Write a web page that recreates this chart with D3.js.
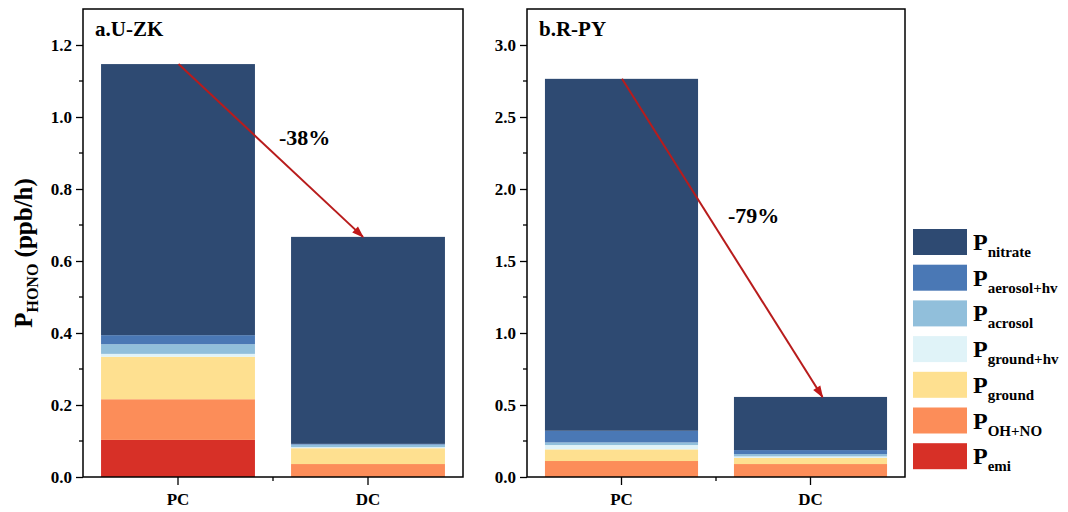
<!DOCTYPE html>
<html>
<head>
<meta charset="utf-8">
<script src="https://cdn.jsdelivr.net/npm/d3@7"></script>
<style>
  body { margin: 0; background: #fff; }
  svg { display: block; }
  svg text { font-family: "Liberation Serif", "DejaVu Serif", "Times New Roman", serif !important; font-weight: bold; fill: #000; }
</style>
</head>
<body>
<svg id="chart" width="1068" height="512"></svg>
<script>
// ---- data ----
const categories = ["PC", "DC"];
const seriesKeys = ["emi", "OH+NO", "ground", "ground+hv", "aerosol", "aerosol+hv", "nitrate"];
const seriesLabels = ["emi", "OH+NO", "ground", "ground+hv", "acrosol", "aerosol+hv", "nitrate"];
const seriesColors = ["#d73027", "#fc8d59", "#fee090", "#e0f3f8", "#91bfdb", "#4a78b5", "#2e4a72"];

// panel a (U-ZK): values per series for [PC, DC]
const uzkPC = [0.103, 0.113, 0.118, 0.008, 0.027, 0.025, 0.753];
const uzkDC = [0.000, 0.036, 0.044, 0.003, 0.007, 0.002, 0.575];
// panel b (R-PY)
const rpyPC = [0.000, 0.111, 0.081, 0.030, 0.018, 0.081, 2.444];
const rpyDC = [0.000, 0.090, 0.042, 0.011, 0.016, 0.028, 0.369];

const uzkTicks = [0.0, 0.2, 0.4, 0.6, 0.8, 1.0, 1.2];
const rpyTicks = [0.0, 0.5, 1.0, 1.5, 2.0, 2.5, 3.0];
const changeLabels = ["-38%", "-79%"];

const panels = [
  { title: "a.U-ZK", pc: uzkPC, dc: uzkDC, max: 1.3, ticks: uzkTicks, minorStep: 0.1, left: 83, right: 463, change: changeLabels[0], labelPos: [279, 145], endOff: -5 },
  { title: "b.R-PY", pc: rpyPC, dc: rpyDC, max: 3.25, ticks: rpyTicks, minorStep: 0.25, left: 527, right: 905, change: changeLabels[1], labelPos: [728, 223], endOff: 12 }
];

const svg = d3.select("#chart");
const plotTop = 9, plotBottom = 477;

svg.append("defs").append("marker")
  .attr("id", "arrowhead")
  .attr("viewBox", "0 0 10 10")
  .attr("refX", 9).attr("refY", 5)
  .attr("markerWidth", 7).attr("markerHeight", 6)
  .attr("markerUnits", "strokeWidth")
  .attr("orient", "auto")
  .append("path").attr("d", "M0,1.5 L10,5 L0,8.5 Z").attr("fill", "#c01818");

panels.forEach(p => {
  const g = svg.append("g");
  const x = d3.scaleBand().domain(categories).range([p.left, p.right]).paddingInner(0.19).paddingOuter(0.095);
  const y = d3.scaleLinear().domain([0, p.max]).range([plotBottom, plotTop]);

  const rows = categories.map((c, i) => {
    const vals = i === 0 ? p.pc : p.dc;
    const o = { cat: c };
    seriesKeys.forEach((k, j) => o[k] = vals[j]);
    return o;
  });
  const stacked = d3.stack().keys(seriesKeys)(rows);

  stacked.forEach((layer, li) => {
    g.selectAll(null).data(layer).join("rect")
      .attr("x", d => x(d.data.cat))
      .attr("width", x.bandwidth())
      .attr("y", d => y(d[1]))
      .attr("height", d => Math.max(0, y(d[0]) - y(d[1])))
      .attr("fill", seriesColors[li]);
  });

  // frame
  g.append("rect").attr("x", p.left).attr("y", plotTop)
    .attr("width", p.right - p.left).attr("height", plotBottom - plotTop)
    .attr("fill", "none").attr("stroke", "#000").attr("stroke-width", 1.5);

  // y axis major
  const yAxis = g.append("g").attr("transform", `translate(${p.left},0)`)
    .call(d3.axisLeft(y).tickValues(p.ticks).tickFormat(d3.format(".1f")).tickSize(7).tickPadding(4));
  yAxis.attr("font-family", null).attr("font-size", null);
  yAxis.select(".domain").remove();
  yAxis.selectAll("line").attr("stroke", "#000").attr("stroke-width", 1.3);
  yAxis.selectAll("text").style("font-size", "17px");

  // y minor ticks
  const minors = d3.range(p.minorStep, p.max, p.minorStep * 2);
  g.selectAll(null).data(minors).join("line")
    .attr("x1", p.left - 4).attr("x2", p.left)
    .attr("y1", d => y(d)).attr("y2", d => y(d))
    .attr("stroke", "#000").attr("stroke-width", 1.3);

  // x axis
  const xAxis = g.append("g").attr("transform", `translate(0,${plotBottom})`)
    .call(d3.axisBottom(x).tickSize(8).tickPadding(8));
  xAxis.attr("font-family", null).attr("font-size", null);
  xAxis.select(".domain").remove();
  xAxis.selectAll("line").attr("stroke", "#000").attr("stroke-width", 1.3);
  xAxis.selectAll("text").style("font-size", "17px");
  // x minor tick between categories
  const mid = (x(categories[0]) + x.bandwidth() + x(categories[1])) / 2;
  g.append("line").attr("x1", mid).attr("x2", mid).attr("y1", plotBottom).attr("y2", plotBottom + 4)
    .attr("stroke", "#000").attr("stroke-width", 1.3);

  // title
  g.append("text").attr("x", p.left + 12).attr("y", 36).style("font-size", "21px").text(p.title);

  // arrow
  const totPC = d3.sum(p.pc), totDC = d3.sum(p.dc);
  g.append("line")
    .attr("x1", x("PC") + x.bandwidth() / 2 + 0.5).attr("y1", y(totPC))
    .attr("x2", x("DC") + x.bandwidth() / 2 + p.endOff).attr("y2", y(totDC))
    .attr("stroke", "#b81c1c").attr("stroke-width", 2)
    .attr("marker-end", "url(#arrowhead)");

  g.append("text").attr("x", p.labelPos[0]).attr("y", p.labelPos[1])
    .style("font-size", "22px").text(p.change);
});

// y label
const yl = svg.append("text")
  .attr("transform", "translate(32,253) rotate(-90)")
  .attr("text-anchor", "middle")
  .style("font-size", "25px");
yl.append("tspan").text("P");
yl.append("tspan").attr("dy", 6).style("font-size", "16px").text("HONO");
yl.append("tspan").attr("dy", -6).text(" (ppb/h)");

// legend (top to bottom: nitrate ... emi)
const legendOrder = d3.range(seriesKeys.length).reverse();
const lg = svg.append("g");
legendOrder.forEach((si, i) => {
  const yy = 229 + i * 35.7;
  lg.append("rect").attr("x", 913).attr("y", yy).attr("width", 54).attr("height", 26)
    .attr("fill", seriesColors[si]);
  const t = lg.append("text").attr("x", 973).attr("y", yy + 21).style("font-size", "24px");
  t.append("tspan").text("P");
  t.append("tspan").attr("dy", 7).style("font-size", "15px").text(seriesLabels[si]);
});
</script>
</body>
</html>
